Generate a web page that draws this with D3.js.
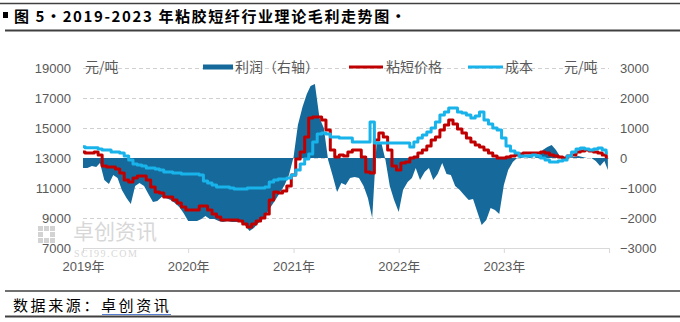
<!DOCTYPE html>
<html><head><meta charset="utf-8">
<script src="https://cdn.jsdelivr.net/npm/d3@7"></script>
<style>body{margin:0;background:#fff}svg{display:block}</style>
</head><body><svg id="c" width="680" height="322"></svg>
<script>
const dates = [
"2019-01-01","2019-01-16","2019-02-01","2019-02-16","2019-03-01","2019-03-16","2019-04-01","2019-04-16","2019-05-01","2019-05-16","2019-06-01","2019-06-16",
"2019-07-01","2019-07-16","2019-08-01","2019-08-16","2019-09-01","2019-09-16","2019-10-01","2019-10-16","2019-11-01","2019-11-16","2019-12-01","2019-12-16",
"2020-01-01","2020-01-16","2020-02-01","2020-02-16","2020-03-01","2020-03-16","2020-04-01","2020-04-16","2020-05-01","2020-05-16","2020-06-01","2020-06-16",
"2020-07-01","2020-07-16","2020-08-01","2020-08-16","2020-09-01","2020-09-16","2020-10-01","2020-10-16","2020-11-01","2020-11-16","2020-12-01","2020-12-16",
"2021-01-01","2021-01-16","2021-02-01","2021-02-16","2021-03-01","2021-03-16","2021-04-01","2021-04-16","2021-05-01","2021-05-16","2021-06-01","2021-06-16",
"2021-07-01","2021-07-16","2021-08-01","2021-08-16","2021-09-01","2021-09-16","2021-10-01","2021-10-16","2021-11-01","2021-11-16","2021-12-01","2021-12-16",
"2022-01-01","2022-01-16","2022-02-01","2022-02-16","2022-03-01","2022-03-16","2022-04-01","2022-04-16","2022-05-01","2022-05-16","2022-06-01","2022-06-16",
"2022-07-01","2022-07-16","2022-08-01","2022-08-16","2022-09-01","2022-09-16","2022-10-01","2022-10-16","2022-11-01","2022-11-16","2022-12-01","2022-12-16",
"2023-01-01","2023-01-16","2023-02-01","2023-02-16","2023-03-01","2023-03-16","2023-04-01","2023-04-16","2023-05-01","2023-05-16","2023-06-01","2023-06-16",
"2023-07-01","2023-07-16","2023-08-01","2023-08-16","2023-09-01","2023-09-16","2023-10-01","2023-10-16","2023-11-01","2023-11-16","2023-12-01","2023-12-16",
"2023-12-28"
];
// 粘短价格 (元/吨, left axis)
const price = [
13400,13330,13330,13400,13200,12470,12400,12400,12270,12000,11530,11400,11670,11800,11800,11530,11070,10730,10670,10400,10400,10200,10000,9730,
9530,9530,9530,9800,9800,9530,9270,9070,8870,8870,8870,8870,8800,8600,8400,8600,8800,9000,9270,10200,10730,10670,10800,11130,
11870,12930,13400,14400,15670,15730,15730,15530,14870,13530,13070,13200,13130,13400,13530,13530,13070,12070,12000,14200,14670,14400,13530,12470,
12200,12670,12730,13000,13070,13330,13530,13800,14200,14400,14870,15200,15530,15270,14930,14670,14330,14070,13870,13730,13530,13330,13130,13000,
13000,13070,13130,13200,13270,13330,13330,13330,13330,13400,13330,13200,13130,13070,13000,13130,13200,13400,13470,13530,13470,13400,13330,13200,
13070
];
// 成本 (元/吨, left axis)
const cost = [
13750,13680,13680,13680,13600,13530,13530,13400,13400,13330,13130,12870,12600,12530,12470,12330,12330,12270,12200,12070,12070,12000,12000,11930,
11930,11930,11930,11870,11470,11330,11200,11070,11070,11070,11000,10930,10930,10930,11000,11000,11000,11000,11070,11400,11530,11600,11600,11670,
11870,12200,12600,12930,13270,14070,14600,14670,14600,14400,14400,14330,14330,14330,14070,14070,14070,14070,15400,14000,14000,14000,14000,14000,
14000,14000,14000,13730,14070,14330,14530,14730,15000,15400,15870,16070,16330,16330,16070,16000,15870,15670,15800,16070,15530,15270,15000,14870,
14330,13800,13470,13330,13130,13130,13130,13200,13130,13000,12870,12730,12730,12800,12870,13130,13400,13600,13670,13600,13530,13600,13670,13530,
13330
];
// 利润 (元/吨, right axis)
const profit = [
-330,-330,-270,-300,-170,-730,-870,-570,-670,-1070,-1330,-1530,-930,-830,-930,-1200,-1470,-1430,-1300,-1330,-1400,-1500,-1630,-1830,
-2100,-2100,-2100,-2030,-1930,-2030,-2030,-2100,-2130,-2100,-2130,-2130,-2130,-2230,-2430,-2330,-2170,-2030,-1830,-1600,-1370,-1130,-900,-570,
30,1100,1700,2130,2400,2470,1330,1000,-70,-570,-1130,-830,-900,-670,-630,-670,-930,-1330,-2000,500,530,-70,-930,-1400,
-1800,-1070,-800,-670,-330,-730,-470,-330,-730,-530,-170,-530,-570,-930,-1070,-1230,-1400,-1370,-1800,-2230,-2070,-1670,-1730,-1870,
-900,-400,-130,0,30,0,30,0,70,270,370,430,270,30,-30,0,30,70,30,0,0,-100,-270,-100,
-400
];
const leftTicks = [7000,9000,11000,13000,15000,17000,19000];
const rightTicks = [-3000,-2000,-1000,0,1000,2000,3000];
const yearTicks = ["2019-01-01","2020-01-01","2021-01-01","2022-01-01","2023-01-01","2024-01-01"];
const seriesNames = ["利润（右轴）","粘短价格","成本"];
const unitLabel = "元/吨";
const titleText = "图 5·2019-2023 年粘胶短纤行业理论毛利走势图·";
const sourceLabel = "数据来源：";
const sourceName = "卓创资讯";

const C_AREA = "#156A9B", C_PRICE = "#C00000", C_COST = "#17B3EA";
const FONT = "'Liberation Sans','Noto Sans CJK SC',sans-serif";
const parse = d3.utcParse("%Y-%m-%d");
const data = dates.map((d,i)=>({date:parse(d), price:price[i], cost:cost[i], profit:profit[i]}));

const svg = d3.select("#c");
const x = d3.scaleUtc().domain([parse(yearTicks[0]), parse(yearTicks[yearTicks.length-1])]).range([83,609]);
const yL = d3.scaleLinear().domain([7000,19000]).range([248,68]);
const yR = d3.scaleLinear().domain([-3000,3000]).range([248,68]);

// frame lines (title / source)
const rules = [[0,3.5,680,1.5],[5,30.5,680,2],[5,291,680,1.5],[5,316.5,680,2]];
svg.selectAll("line.rule").data(rules).join("line").attr("class","rule")
  .attr("x1",d=>d[0]).attr("x2",d=>d[2]).attr("y1",d=>d[1]).attr("y2",d=>d[1])
  .attr("stroke","#404040").attr("stroke-width",d=>d[3]);

// title
svg.append("rect").attr("x",3).attr("y",12).attr("width",5).attr("height",6).attr("fill","#000");
svg.append("text").attr("x",14).attr("y",21.5).text(titleText)
  .attr("font-family","'Noto Sans CJK SC',sans-serif").attr("font-weight","bold")
  .attr("font-size",15).attr("letter-spacing","1.6px").attr("fill","#000");

// watermark
const wm = svg.append("g").attr("opacity",0.55);
const sq = [[0,0],[6,0],[12,6],[0,6],[6,12],[12,0],[0,12],[12,12]];
wm.selectAll("rect").data(sq).join("rect").attr("x",d=>38+d[0]).attr("y",d=>226+d[1])
  .attr("width",5).attr("height",5).attr("fill","#b0b0b0");
wm.append("text").attr("x",73).attr("y",239).text("卓创资讯").attr("font-family","'Noto Sans CJK SC'")
  .attr("font-size",21).attr("fill","#b8b8b8");
wm.append("text").attr("x",74).attr("y",257).text("SCI99.COM").attr("font-family","'Liberation Serif'")
  .attr("font-size",10).attr("letter-spacing","1.5px").attr("fill","#b8b8b8");

// gridlines
svg.append("g").selectAll("line").data(leftTicks.filter(v=>v>7000)).join("line")
  .attr("x1",83).attr("x2",609).attr("y1",d=>Math.round(yL(d))+0.5).attr("y2",d=>Math.round(yL(d))+0.5)
  .attr("stroke","#d0d0d0").attr("stroke-dasharray","4,3");

// profit area (right axis)
svg.append("path").datum(data)
  .attr("d", d3.area().x(d=>x(d.date)).y0(yR(0)).y1(d=>yR(d.profit)))
  .attr("fill",C_AREA);

// price & cost lines (left axis)
svg.append("path").datum(data).attr("fill","none").attr("stroke",C_PRICE).attr("stroke-width",3)
  .attr("stroke-linejoin","round").attr("d", d3.line().curve(d3.curveStep).x(d=>x(d.date)).y(d=>yL(d.price)));
svg.append("path").datum(data).attr("fill","none").attr("stroke",C_COST).attr("stroke-width",3)
  .attr("stroke-linejoin","round").attr("d", d3.line().curve(d3.curveStep).x(d=>x(d.date)).y(d=>yL(d.cost)));

// axes
const ax = svg.append("g").attr("transform","translate(0,248)")
  .call(d3.axisBottom(x).tickValues(yearTicks.map(parse)).tickSize(5).tickSizeOuter(0).tickPadding(9)
    .tickFormat(d=>d.getUTCFullYear()<2024 ? d3.utcFormat("%Y年")(d) : ""));
ax.select(".domain").attr("stroke","#d9d9d9");
ax.selectAll(".tick line").attr("stroke","#d9d9d9");
ax.selectAll("text").attr("font-family",FONT).attr("font-size",13).attr("fill","#595959");

const al = svg.append("g").attr("transform","translate(71,0)")
  .call(d3.axisLeft(yL).tickValues(leftTicks).tickSize(0).tickPadding(0).tickFormat(d3.format("d")));
al.select(".domain").remove();
al.selectAll("text").attr("font-family",FONT).attr("font-size",13).attr("fill","#595959");

const ar = svg.append("g").attr("transform","translate(620,0)")
  .call(d3.axisRight(yR).tickValues(rightTicks).tickSize(0).tickPadding(0).tickFormat(d3.format("d")));
ar.select(".domain").remove();
ar.selectAll("text").attr("font-family",FONT).attr("font-size",13).attr("fill","#595959");

// units
const unitStyle = s => s.attr("font-family","'Noto Sans CJK SC',sans-serif").attr("font-size",14).attr("fill","#595959");
svg.append("text").attr("x",85).attr("y",72).text(unitLabel).call(unitStyle);
svg.append("text").attr("x",564).attr("y",72).text(unitLabel).call(unitStyle);

// legend
const lg = svg.append("g");
lg.append("rect").attr("x",203).attr("y",64.5).attr("width",30).attr("height",5).attr("fill",C_AREA);
lg.append("text").attr("x",235).attr("y",72).text(seriesNames[0]).call(unitStyle);
lg.append("line").attr("x1",349).attr("x2",383).attr("y1",67).attr("y2",67).attr("stroke",C_PRICE).attr("stroke-width",3);
lg.append("text").attr("x",386).attr("y",72).text(seriesNames[1]).call(unitStyle);
lg.append("line").attr("x1",468).attr("x2",503).attr("y1",67).attr("y2",67).attr("stroke",C_COST).attr("stroke-width",3);
lg.append("text").attr("x",505).attr("y",72).text(seriesNames[2]).call(unitStyle);

// source
const src = svg.append("text").attr("x",13).attr("y",310.5)
  .attr("font-family","'Noto Sans CJK SC',sans-serif").attr("font-size",15).attr("letter-spacing","2.6px").attr("fill","#000");
src.append("tspan").text(sourceLabel);
src.append("tspan").text(sourceName);
svg.append("line").attr("x1",102).attr("x2",171).attr("y1",314.5).attr("y2",314.5).attr("stroke","#5B7FD0").attr("stroke-width",1);
</script></body></html>
